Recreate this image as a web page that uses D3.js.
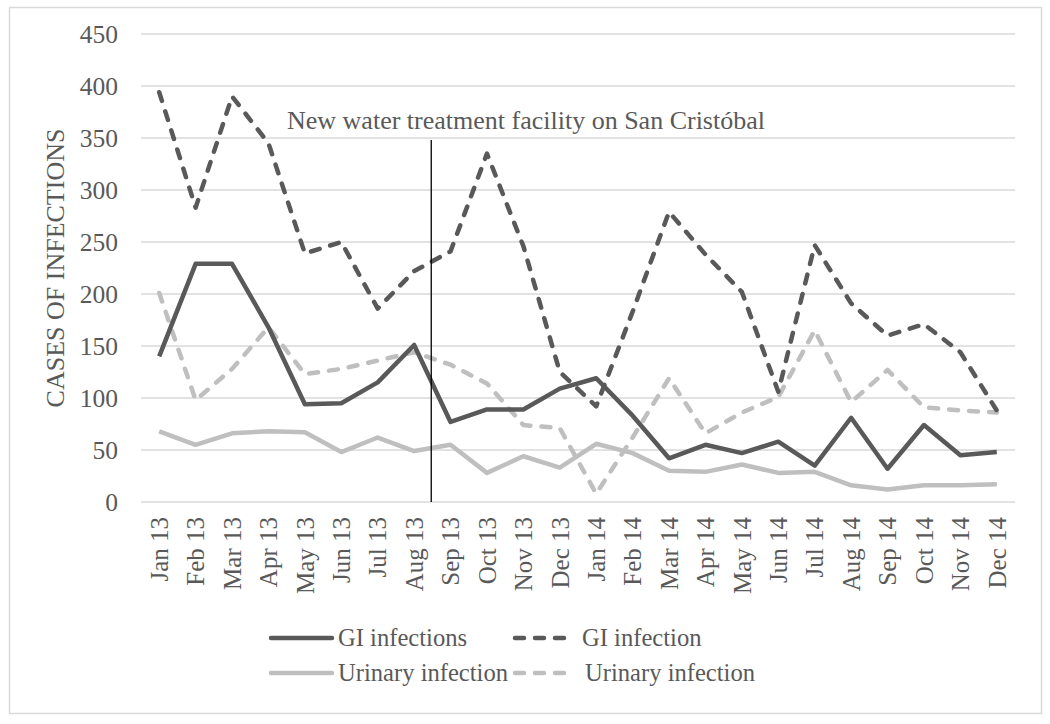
<!DOCTYPE html>
<html>
<head>
<meta charset="utf-8">
<script src="https://cdn.jsdelivr.net/npm/d3@7"></script>
</head>
<body style="margin:0">
<svg id="chart" width="1050" height="724"></svg>
<script>
const months = ["Jan 13","Feb 13","Mar 13","Apr 13","May 13","Jun 13","Jul 13","Aug 13","Sep 13","Oct 13","Nov 13","Dec 13",
                "Jan 14","Feb 14","Mar 14","Apr 14","May 14","Jun 14","Jul 14","Aug 14","Sep 14","Oct 14","Nov 14","Dec 14"];
const giSolid     = [140,229,229,168,94,95,115,151,77,89,89,109,119,83,42,55,47,58,35,81,32,74,45,48];
const giDashed    = [394,283,390,345,239,250,186,222,241,335,246,125,92,183,279,238,202,106,247,191,160,171,144,88];
const uriSolid    = [68,55,66,68,67,48,62,49,55,28,44,33,56,47,30,29,36,28,29,16,12,16,16,17];
const uriDashed   = [201,98,128,168,123,128,136,144,132,114,74,71,8,62,119,66,86,101,165,96,127,91,88,86];
const yTicks      = [0,50,100,150,200,250,300,350,400,450];
const annotationText = "New water treatment facility on San Cristóbal";
const annotationMonth = "Aug 13";
const annotationTop = 348;

const series = [
  { name: "GI infections",     values: giSolid,  color: "#595959", dashed: false },
  { name: "GI infection",      values: giDashed, color: "#595959", dashed: true },
  { name: "Urinary infection", values: uriSolid, color: "#bfbfbf", dashed: false },
  { name: "Urinary infection", values: uriDashed, color: "#bfbfbf", dashed: true }
];

const svg = d3.select("#chart");
const FONT = '"Liberation Serif"';
const TXT = "#595959";
function serif(sel, size) {
  return sel.attr("font-family", FONT).attr("font-size", size)
    .style("font-family", FONT, "important").style("font-size", size + "px")
    .attr("fill", TXT);
}

// outer border
svg.append("rect").attr("x", 9.5).attr("y", 7.5).attr("width", 1032).attr("height", 706)
  .attr("fill", "#fff").attr("stroke", "#d9d9d9").attr("stroke-width", 1.5);

const x = d3.scalePoint().domain(months).range([141, 1015]).padding(0.5);
const y = d3.scaleLinear().domain([0, 450]).range([502, 34]);

// gridlines
svg.append("g").selectAll("line").data(yTicks).join("line")
  .attr("x1", 141).attr("x2", 1015)
  .attr("y1", d => y(d)).attr("y2", d => y(d))
  .attr("stroke", "#d9d9d9").attr("stroke-width", 1.5);

// y axis labels
const yAxis = d3.axisLeft(y).tickValues(yTicks).tickSize(0).tickPadding(0);
const gy = svg.append("g").attr("transform", "translate(118,0)").call(yAxis);
gy.select(".domain").remove();
gy.attr("font-family", FONT).attr("font-size", 25.5);
serif(gy.selectAll("text"), 25.5);

// x axis labels
const xAxis = d3.axisBottom(x).tickSize(0).tickPadding(0);
const gx = svg.append("g").attr("transform", "translate(0,502)").call(xAxis);
gx.select(".domain").remove();
gx.attr("font-family", FONT).attr("font-size", 25);
serif(gx.selectAll("text"), 25)
  .attr("text-anchor", "end")
  .attr("transform", "translate(0,15) rotate(-90)")
  .attr("x", 0).attr("y", 0).attr("dy", "0.33em");

// y title
serif(svg.append("text"), 26)
  .attr("transform", `translate(55,${(y(0)+y(450))/2}) rotate(-90)`)
  .attr("text-anchor", "middle").attr("dy", "0.33em")
  .text("CASES OF INFECTIONS");

// lines
const line = d3.line().x((d, i) => x(months[i])).y(d => y(d));
const order = [2, 3, 0, 1];
order.forEach(k => {
  const s = series[k];
  svg.append("path").datum(s.values)
    .attr("d", line)
    .attr("fill", "none")
    .attr("stroke", s.color)
    .attr("stroke-width", 4.5)
    .attr("stroke-linejoin", "round")
    .attr("stroke-linecap", s.dashed ? "round" : "butt")
    .attr("stroke-dasharray", s.dashed ? "9,11" : null);
});

// annotation
const step = x.step();
const ax = x(annotationMonth) + step * 0.47;
svg.append("line").attr("x1", ax).attr("x2", ax).attr("y1", y(annotationTop)).attr("y2", y(0))
  .attr("stroke", "#000").attr("stroke-width", 1.3);
serif(svg.append("text"), 26).attr("x", 287).attr("y", 129).text(annotationText);

// legend
const legendPos = [
  { lx: 271, ly: 638, tx: 338 },
  { lx: 515, ly: 638, tx: 582 },
  { lx: 271, ly: 673, tx: 338 },
  { lx: 515, ly: 673, tx: 585 }
];
series.forEach((s, i) => {
  const p = legendPos[i];
  svg.append("line").attr("x1", p.lx).attr("x2", p.lx + (s.dashed ? 55 : 61))
    .attr("y1", p.ly).attr("y2", p.ly)
    .attr("stroke", s.color).attr("stroke-width", 4.5)
    .attr("stroke-linecap", "round")
    .attr("stroke-dasharray", s.dashed ? "9,11" : null);
  serif(svg.append("text"), 24.6).attr("x", p.tx).attr("y", p.ly).attr("dy", "0.33em").text(s.name);
});
</script>
</body>
</html>
